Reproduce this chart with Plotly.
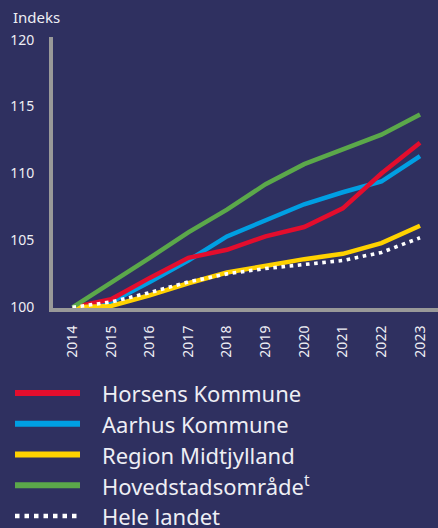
import plotly.graph_objects as go

years = [2014, 2015, 2016, 2017, 2018, 2019, 2020, 2021, 2022, 2023]
tick_labels = [str(y) for y in years]

series_names = ["Horsens Kommune", "Aarhus Kommune", "Region Midtjylland",
                "Hovedstadsområde<sup>t</sup>", "Hele landet"]
horsens = [100, 100.6, 102.2, 103.7, 104.3, 105.3, 106.0, 107.4, 110.0, 112.3]
aarhus = [100, 100.4, 101.9, 103.5, 105.3, 106.5, 107.7, 108.6, 109.4, 111.3]
region = [100, 100.1, 100.9, 101.8, 102.6, 103.1, 103.6, 104.0, 104.8, 106.1]
hoved = [100, 101.9, 103.7, 105.6, 107.3, 109.2, 110.7, 111.8, 112.9, 114.4]
hele = [100, 100.4, 101.1, 101.9, 102.5, 102.9, 103.2, 103.5, 104.1, 105.2]

colors = ["#E30D2D", "#009FE3", "#FFD200", "#5BA84A", "#FFFFFF"]
dashes = ["solid", "solid", "solid", "solid", "dot"]
values = [horsens, aarhus, region, hoved, hele]
draw_order = [1, 0, 2, 3, 4]

BG = "#2F3060"
AXIS = "#999999"
TXT = "#EEEEF4"
FONT = "Noto Sans, sans-serif"

W, H = 438, 528
ML, MR, MT, MB = 53, 0, 37, 220
PW, PH = W - ML - MR, H - MT - MB


def px_x(x):
    return (x - ML) / PW


def px_y(y):
    return (H - MB - y) / PH


fig = go.Figure()
for i in draw_order:
    solid = dashes[i] == "solid"
    fig.add_trace(go.Scatter(
        x=years, y=values[i], mode="lines", name=series_names[i],
        line=dict(color=colors[i], width=4.5 if solid else 3.6,
                  dash="solid" if solid else "3.6px,4.6px"),
        showlegend=False, hoverinfo="skip"))

shapes = []
annotations = []
row_y0, row_step = 393, 30.75
for k, name in enumerate(series_names):
    yc = row_y0 + k * row_step
    solid = dashes[k] == "solid"
    shapes.append(dict(
        type="line", xref="paper", yref="paper",
        x0=px_x(15), x1=px_x(80), y0=px_y(yc), y1=px_y(yc),
        line=dict(color=colors[k], width=6 if solid else 4.5,
                  dash="solid" if solid else "4.5px,5px")))
    annotations.append(dict(
        text=name, xref="paper", yref="paper", x=px_x(100), y=px_y(yc),
        xanchor="left", yanchor="middle", showarrow=False,
        font=dict(family=FONT, size=22, color=TXT)))

annotations.append(dict(
    text="Indeks", xref="paper", yref="paper", x=px_x(11), y=px_y(17),
    xanchor="left", yanchor="middle", showarrow=False,
    font=dict(family=FONT, size=15, color=TXT)))

fig.update_layout(
    width=W, height=H,
    margin=dict(l=ML, r=MR, t=MT, b=MB, pad=0),
    paper_bgcolor=BG, plot_bgcolor=BG,
    showlegend=False,
    shapes=shapes, annotations=annotations,
    xaxis=dict(range=[2013.495, 2023.466], tickvals=years, ticktext=tick_labels,
               tickangle=-90, showgrid=False, zeroline=False,
               showline=True, linecolor=AXIS, linewidth=4,
               ticks="", ticklabelstandoff=8,
               tickfont=dict(family=FONT, size=14, color=TXT)),
    yaxis=dict(range=[99.95, 120.2], tickvals=[100, 105, 110, 115, 120],
               showgrid=False, zeroline=False,
               showline=True, linecolor=AXIS, linewidth=4,
               ticks="", ticklabelstandoff=12,
               tickfont=dict(family=FONT, size=14, color=TXT)),
)

fig.write_html("out.html",
               config={"displayModeBar": False},
               post_script="document.body.style.margin='0';"
                           "document.body.style.background='" + BG + "';")
